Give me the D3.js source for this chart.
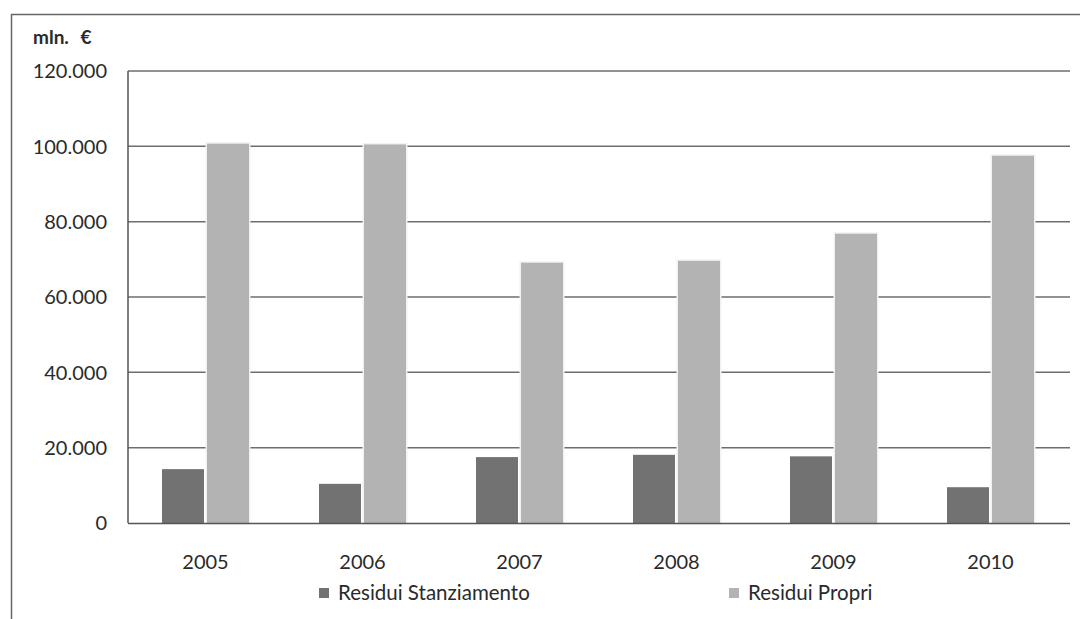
<!DOCTYPE html>
<html>
<head>
<meta charset="utf-8">
<script src="https://cdn.jsdelivr.net/npm/d3@7/dist/d3.min.js"></script>
<style>
  html, body { margin: 0; padding: 0; background: #fff; }
  svg { display: block; }
  text { font-family: Lato, "Open Sans", sans-serif; fill: #2a2a2a; }
</style>
</head>
<body>
<div id="chart"></div>
<script>
// Residui (mln. €) per anno
const years = ["2005", "2006", "2007", "2008", "2009", "2010"];
const residuiStanziamento = [14300, 10400, 17500, 18100, 17700, 9500];
const residuiPropri = [100700, 100500, 69100, 69600, 76800, 97500];
const seriesNames = ["Residui Stanziamento", "Residui Propri"];
const seriesColors = ["#727272", "#b3b3b3"];
const yTicks = [0, 20000, 40000, 60000, 80000, 100000, 120000];

const W = 1080, H = 619;

const svg = d3.select("#chart").append("svg")
  .attr("width", W).attr("height", H);

// outer frame (top and left edges)
svg.append("path")
  .attr("d", `M11.5,${H} V14.5 H${W}`)
  .attr("fill", "none").attr("stroke", "#666").attr("stroke-width", 1.5);

const x0 = d3.scaleBand().domain(years).range([128, 1070]).padding(0);
const y = d3.scaleLinear().domain([0, 120000]).range([523, 71]);

const fmt = v => d3.format(",")(v).replace(/,/g, ".");

// gridlines
svg.append("g").selectAll("line").data(yTicks.filter(d => d > 0)).join("line")
  .attr("x1", 128).attr("x2", 1070)
  .attr("y1", d => y(d)).attr("y2", d => y(d))
  .attr("stroke", "#6e6e6e").attr("stroke-width", 1.5);

// y tick labels
svg.append("g").selectAll("text").data(yTicks).join("text")
  .attr("x", 107).attr("y", d => y(d)).attr("dy", "0.36em")
  .attr("text-anchor", "end").attr("font-size", 20)
  .text(d => fmt(d));

// unit label
svg.append("text").attr("x", 33).attr("y", 44)
  .attr("font-size", 19).attr("font-weight", "bold").attr("fill", "#222")
  .attr("word-spacing", 7)
  .text("mln. €");

// bars
const barW = 42, gap = 3;
const rows = years.map((yr, i) => ({ yr, vals: [residuiStanziamento[i], residuiPropri[i]] }));
const groups = svg.append("g").selectAll("g").data(rows).join("g")
  .attr("transform", d => `translate(${x0(d.yr) + x0.bandwidth() / 2},0)`);

groups.selectAll("rect").data(d => d.vals.map((v, k) => ({ v, k }))).join("rect")
  .attr("x", d => d.k === 0 ? -(barW + gap / 2) - 1 : gap / 2 - 1)
  .attr("width", barW)
  .attr("y", d => y(d.v))
  .attr("height", d => y(0) - y(d.v))
  .attr("fill", d => seriesColors[d.k])
  .attr("stroke", d => d.k === 1 ? "#f2f2f2" : "none")
  .attr("stroke-width", d => d.k === 1 ? 3 : 0)
  .attr("paint-order", "stroke");

// axes
svg.append("line").attr("x1", 128).attr("x2", 128).attr("y1", 71).attr("y2", 523)
  .attr("stroke", "#555").attr("stroke-width", 1.5);
svg.append("line").attr("x1", 128).attr("x2", 1070).attr("y1", 523.5).attr("y2", 523.5)
  .attr("stroke", "#555").attr("stroke-width", 1.5);

// x labels
svg.append("g").selectAll("text").data(years).join("text")
  .attr("x", d => x0(d) + x0.bandwidth() / 2 - 1).attr("y", 562).attr("dy", "0.36em")
  .attr("text-anchor", "middle").attr("font-size", 20)
  .text(d => d);

// legend
const legX = [319, 729];
const leg = svg.append("g").selectAll("g").data(seriesNames).join("g")
  .attr("transform", (d, i) => `translate(${legX[i]},593)`);
leg.append("rect").attr("x", 0).attr("y", -5).attr("width", 10).attr("height", 10)
  .attr("fill", (d, i) => seriesColors[i]);
leg.append("text").attr("x", 19).attr("y", 0).attr("dy", "0.36em")
  .attr("font-size", 20.5).text(d => d);
</script>
</body>
</html>
